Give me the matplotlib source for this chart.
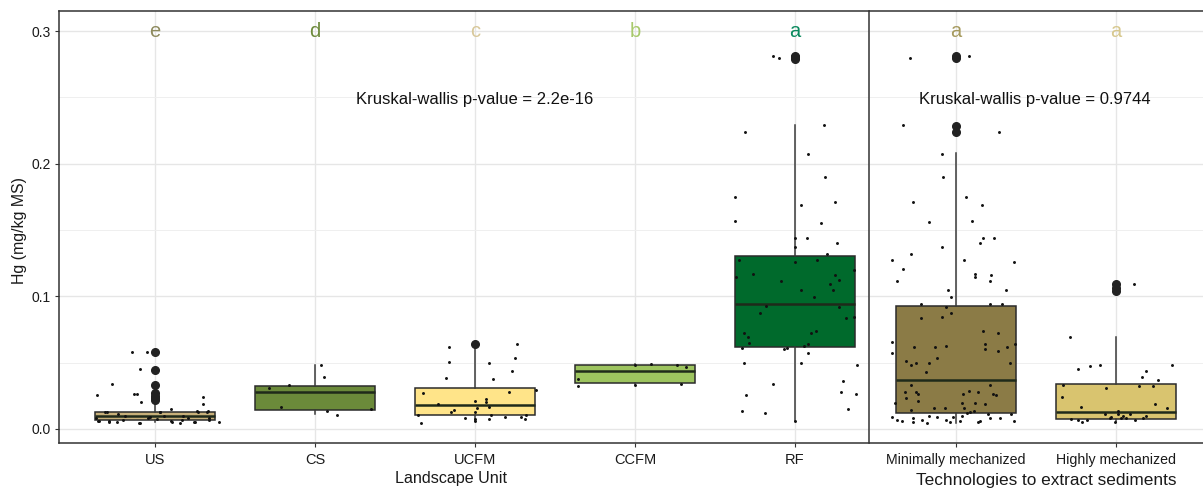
import matplotlib
matplotlib.use("Agg")
import matplotlib.pyplot as plt
from matplotlib.ticker import MultipleLocator

plt.rcParams['font.family'] = ['Liberation Sans', 'DejaVu Sans']

# ---------------- data ----------------
land_units = ["US", "CS", "UCFM", "CCFM", "RF"]
tech_groups = ["Minimally mechanized", "Highly mechanized"]

land_letters = ["e", "d", "c", "b", "a"]
tech_letters = ["a", "a"]

# box statistics
land_q1 = [0.0066, 0.0143, 0.0103, 0.0350, 0.0620]
land_med = [0.0098, 0.0280, 0.0179, 0.0435, 0.0944]
land_q3 = [0.0130, 0.0324, 0.0307, 0.0480, 0.1306]
land_whislo = [0.0050, 0.0110, 0.0063, 0.0340, 0.0063]
land_whishi = [0.0190, 0.0480, 0.0638, 0.0490, 0.2290]
land_fliers = [
    [0.058, 0.0445, 0.033, 0.027, 0.025, 0.0235, 0.022],
    [],
    [0.0638],
    [],
    [0.279, 0.2805, 0.2815],
]

tech_q1 = [0.0120, 0.0075]
tech_med = [0.0370, 0.0126]
tech_q3 = [0.0927, 0.0340]
tech_whislo = [0.0048, 0.0050]
tech_whishi = [0.2078, 0.0690]
tech_fliers = [
    [0.2795, 0.281, 0.2284, 0.2239],
    [0.109, 0.1065, 0.1038],
]

# jittered raw observations: horizontal jitter offset and value
us_dx = [-0.146, -0.05, -0.094, -0.27, -0.36, -0.13, -0.11, -0.088, 0.30, 0.30, 0.10, 0.40,
         -0.31, -0.37, -0.355, -0.29, -0.23, -0.2, -0.1, -0.03, 0.03, 0.1, 0.17, 0.26, 0.33,
         0.34, 0.25, -0.35, -0.30, -0.29, -0.235, -0.19, -0.094, -0.042, 0.01, 0.03, 0.055,
         0.104, 0.156, 0.173, 0.208, 0.245, 0.27, 0.326, 0.34]
us_y = [0.058, 0.058, 0.045, 0.034, 0.0255, 0.026, 0.026, 0.020, 0.024, 0.019, 0.015, 0.0055,
        0.013, 0.008, 0.006, 0.006, 0.0113, 0.0068, 0.0048, 0.0093, 0.0126, 0.006, 0.0068,
        0.0136, 0.0136, 0.0068, 0.0055, 0.0063, 0.0126, 0.0055, 0.0055, 0.0100, 0.0043,
        0.0080, 0.0075, 0.0126, 0.0100, 0.0055, 0.0048, 0.0100, 0.0080, 0.0055, 0.0130,
        0.0130, 0.0080]

cs_dx = [0.04, 0.056, -0.16, -0.29, -0.21, 0.077, 0.136, 0.35]
cs_y = [0.048, 0.039, 0.033, 0.031, 0.0168, 0.0138, 0.0108, 0.015]

ucfm_dx = [-0.16, 0.26, -0.16, 0.25, 0.09, 0.23, -0.18, 0.11, -0.325, 0.215, 0.38, 0.0, 0.07,
           0.07, -0.23, 0.09, 0.01, -0.13, -0.15, 0.0, -0.355, -0.06, 0.0, 0.0, 0.09, 0.19,
           0.29, 0.32, 0.31, 0.10, -0.34]
ucfm_y = [0.0616, 0.064, 0.0507, 0.0535, 0.0495, 0.044, 0.0387, 0.0377, 0.0274, 0.0281, 0.029,
          0.0213, 0.0228, 0.0203, 0.0188, 0.0163, 0.016, 0.0143, 0.0126, 0.0128, 0.0108, 0.008,
          0.0073, 0.0063, 0.0073, 0.0088, 0.0088, 0.0105, 0.0073, 0.0105, 0.0043]

ccfm_dx = [-0.355, -0.355, 0.0, 0.10, 0.26, 0.32, 0.29, 0.0]
ccfm_y = [0.0374, 0.032, 0.0485, 0.049, 0.0485, 0.047, 0.0337, 0.033]

rf_dx = [-0.14, -0.10, -0.31, 0.18, 0.08, 0.19, -0.375, 0.035, 0.25, -0.375, 0.16, 0.0, 0.078,
         0.0, 0.26, 0.2, -0.35, 0.0, 0.135, -0.265, -0.37, -0.09, 0.25, 0.22, 0.275, 0.24,
         0.04, 0.12, 0.37, -0.18, 0.275, -0.22, 0.32, 0.37, -0.32, -0.295, -0.29, 0.1, 0.13,
         0.08, 0.056, -0.33, -0.07, -0.05, 0.08, -0.32, 0.04, 0.39, -0.14, 0.3, -0.305, 0.29,
         0.38, -0.33, -0.19, 0.33, 0.0]
rf_y = [0.2814, 0.2794, 0.224, 0.229, 0.2073, 0.19, 0.175, 0.1688, 0.1713, 0.157, 0.1555, 0.144,
        0.144, 0.137, 0.14, 0.132, 0.127, 0.1256, 0.127, 0.117, 0.1143, 0.1118, 0.116, 0.109,
        0.112, 0.1045, 0.1048, 0.0995, 0.120, 0.0927, 0.0917, 0.0872, 0.0834, 0.0846, 0.0721,
        0.0696, 0.065, 0.0721, 0.074, 0.0643, 0.0628, 0.0613, 0.0601, 0.0613, 0.057, 0.0495,
        0.0495, 0.048, 0.0337, 0.036, 0.0259, 0.0281, 0.0264, 0.0133, 0.0123, 0.015, 0.0063]

min_dx = [-0.29, 0.08, -0.33, 0.27, -0.09, -0.08, 0.06, -0.27, 0.16, -0.17, 0.10, 0.17, 0.24,
          0.15, -0.09, -0.4, -0.28, -0.33, -0.37, 0.05, 0.365, 0.12, 0.12, 0.22, 0.21, -0.05,
          -0.03, 0.31, -0.22, 0.21, 0.29, -0.22, -0.09, -0.03, -0.06, 0.17, 0.26, -0.4, -0.4,
          -0.26, -0.13, -0.06, 0.18, 0.18, 0.26, 0.32, 0.335, 0.37, -0.12, -0.31, -0.28, -0.25,
          -0.19, -0.17, -0.28, -0.32, -0.31, -0.25, -0.24, -0.24, -0.38, -0.28, -0.14, -0.07,
          0.035, 0.046, 0.08, 0.14, 0.12, 0.18, 0.21, 0.23, 0.25, 0.05, 0.09, 0.11, -0.4, -0.37,
          -0.34, -0.27, -0.27, -0.21, -0.18, -0.17, -0.12, -0.06, -0.04, -0.02, 0.025, 0.035,
          0.07, 0.14, 0.15, 0.2, 0.21, 0.275, 0.345, 0.36]
min_y = [0.2794, 0.281, 0.229, 0.224, 0.2073, 0.19, 0.175, 0.1713, 0.1688, 0.1558, 0.157, 0.144,
         0.144, 0.14, 0.137, 0.1274, 0.132, 0.1206, 0.1118, 0.1274, 0.1256, 0.1168, 0.1143,
         0.116, 0.1118, 0.1048, 0.0993, 0.1048, 0.0942, 0.0942, 0.0942, 0.0834, 0.0846, 0.0872,
         0.0917, 0.074, 0.0726, 0.0655, 0.0575, 0.0616, 0.0616, 0.0626, 0.064, 0.06, 0.059,
         0.0616, 0.0495, 0.064, 0.0537, 0.0513, 0.048, 0.0495, 0.0432, 0.0495, 0.0332, 0.028,
         0.023, 0.028, 0.026, 0.021, 0.0194, 0.0143, 0.0156, 0.0156, 0.0194, 0.026, 0.0286,
         0.028, 0.0198, 0.0186, 0.0332, 0.026, 0.0256, 0.0156, 0.013, 0.0136, 0.0093, 0.0068,
         0.0063, 0.005, 0.008, 0.0068, 0.0048, 0.010, 0.0093, 0.0068, 0.0055, 0.0093, 0.0063,
         0.0098, 0.0118, 0.005, 0.0063, 0.011, 0.008, 0.008, 0.011, 0.0063]

high_dx = [0.11, -0.29, -0.24, -0.16, -0.1, 0.35, 0.185, 0.16, 0.26, -0.33, 0.145, 0.23, -0.06,
           -0.34, 0.245, 0.32, -0.22, -0.07, -0.03, 0.01, 0.01, 0.045, 0.09, 0.06, -0.28, -0.24,
           -0.21, -0.18, -0.04, -0.005, 0.03, 0.12, 0.17, 0.185]
high_y = [0.109, 0.0696, 0.0452, 0.0477, 0.048, 0.048, 0.044, 0.039, 0.037, 0.0332, 0.0327,
          0.032, 0.031, 0.0239, 0.0186, 0.016, 0.0168, 0.011, 0.0093, 0.0138, 0.0113, 0.010,
          0.011, 0.008, 0.0073, 0.0068, 0.0055, 0.0068, 0.008, 0.0055, 0.008, 0.0068, 0.008,
          0.010]

land_points = [(us_dx, us_y), (cs_dx, cs_y), (ucfm_dx, ucfm_y), (ccfm_dx, ccfm_y), (rf_dx, rf_y)]
tech_points = [(min_dx, min_y), (high_dx, high_y)]

land_fill = ["#C8B07A", "#6B8A3A", "#FFE489", "#9DC45F", "#006A2C"]
tech_fill = ["#8B7B46", "#D9C46F"]
land_letter_col = ["#8E8B5E", "#6E8B3D", "#D8C89A", "#A8C96C", "#0B8A5E"]
tech_letter_col = ["#A69A5E", "#D7C88E"]

land_p = "Kruskal-wallis p-value = 2.2e-16"
tech_p = "Kruskal-wallis p-value = 0.9744"

# ---------------- figure ----------------
W, H = 1203, 488
fig = plt.figure(figsize=(W / 100, H / 100), dpi=100)

def px_axes(x0, x1, ytop, ybot):
    return fig.add_axes([x0 / W, 1 - ybot / H, (x1 - x0) / W, (ybot - ytop) / H])

ax1 = px_axes(59, 869, 11, 443)
ax2 = px_axes(870, 1212, 11, 443)

ylim = (-0.0106, 0.3151)
border = "#333333"

def draw(ax, q1, med, q3, lo, hi, fliers, fills, points):
    stats = []
    for i in range(len(q1)):
        stats.append(dict(q1=q1[i], med=med[i], q3=q3[i], whislo=lo[i], whishi=hi[i],
                          fliers=fliers[i]))
    bp = ax.bxp(stats, positions=list(range(len(q1))), widths=0.75, patch_artist=True,
                showcaps=False, manage_ticks=False,
                boxprops=dict(edgecolor="#2b2b2b", linewidth=1.1),
                medianprops=dict(color="#1f2a1a", linewidth=1.8),
                whiskerprops=dict(color="#3a3a3a", linewidth=1.1),
                flierprops=dict(marker="o", markerfacecolor="#222222",
                                markeredgecolor="#222222", markersize=5.5),
                zorder=2)
    for patch, c in zip(bp["boxes"], fills):
        patch.set_facecolor(c)
    for i, (dx, ys) in enumerate(points):
        xs = [i + d for d in dx]
        ax.scatter(xs, ys, s=4.5, color="#111111", zorder=4, linewidths=0)

def style(ax, names, xlim, fs):
    ax.set_ylim(*ylim)
    ax.set_xlim(*xlim)
    ax.yaxis.set_major_locator(MultipleLocator(0.1))
    ax.yaxis.set_minor_locator(MultipleLocator(0.05))
    ax.set_xticks(range(len(names)))
    ax.set_xticklabels(names, fontsize=fs, color="#1a1a1a")
    ax.grid(True, which="major", color="#E6E6E6", lw=1.0, zorder=0)
    ax.grid(True, which="minor", axis="y", color="#EFEFEF", lw=0.7, zorder=0)
    ax.set_axisbelow(True)
    for s in ax.spines.values():
        s.set_color(border)
        s.set_linewidth(1.1)
    ax.tick_params(axis="x", length=3, color=border, pad=4)
    ax.tick_params(axis="y", which="minor", length=0)

draw(ax1, land_q1, land_med, land_q3, land_whislo, land_whishi, land_fliers, land_fill, land_points)
draw(ax2, tech_q1, tech_med, tech_q3, tech_whislo, tech_whishi, tech_fliers, tech_fill, tech_points)
style(ax1, land_units, (-0.6, 4.4625), 10.5)
style(ax2, tech_groups, (-0.5375, 1.6), 10.2)

ax1.set_yticks([0.0, 0.1, 0.2, 0.3])
ax1.set_yticklabels(["0.0", "0.1", "0.2", "0.3"])
ax1.tick_params(axis="y", which="major", length=3, color=border, labelsize=10,
                labelcolor="#1a1a1a", pad=3)
ax2.tick_params(axis="y", which="both", length=0, labelleft=False)
ax2.spines["left"].set_visible(False)

for i, (l, c) in enumerate(zip(land_letters, land_letter_col)):
    ax1.text(i, 0.3, l, color=c, fontsize=14.5, ha="center", va="center", zorder=5)
for i, (l, c) in enumerate(zip(tech_letters, tech_letter_col)):
    ax2.text(i, 0.3, l, color=c, fontsize=14.5, ha="center", va="center", zorder=5)

ax1.text(2.0, 0.2487, land_p, fontsize=12, ha="center", va="center", color="#111111", zorder=5)
ax2.text(0.495, 0.2487, tech_p, fontsize=12, ha="center", va="center", color="#111111", zorder=5)

fig.text(20 / W, 1 - 230 / H, "Hg (mg/kg MS)", rotation=90, fontsize=11.4,
         ha="center", va="center", color="#1a1a1a")
fig.text(451 / W, 1 - 478 / H, "Landscape Unit", fontsize=11.6, ha="center", va="center",
         color="#1a1a1a")
fig.text(1046 / W, 1 - 480 / H, "Technologies to extract sediments", fontsize=12.4,
         ha="center", va="center", color="#1a1a1a")

fig.savefig("out.png", dpi=100)
